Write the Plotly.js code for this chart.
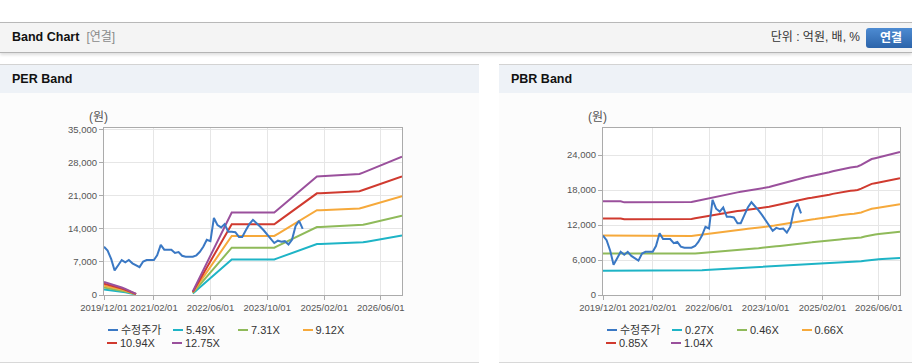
<!DOCTYPE html>
<html><head><meta charset="utf-8">
<script src="https://cdn.plot.ly/plotly-3.0.1.min.js"></script>
<style>
html,body{margin:0;padding:0;background:#fff;width:912px;height:364px;overflow:hidden;
  font-family:"Liberation Sans",Arial,"Noto Sans CJK KR",sans-serif;}
.abs{position:absolute;}
#hdr{left:0;top:22px;width:912px;height:29px;background:#f4f4f4;border-top:1px solid #b8b8b8;border-bottom:1px solid #b4b4b4;box-shadow:0 2px 3px rgba(0,0,0,0.13);}
#ttl{left:12px;top:23px;height:29px;line-height:29px;font-size:12.5px;font-weight:bold;color:#111;white-space:nowrap;}
#ttl span{font-weight:normal;color:#8a8a8a;margin-left:7px;font-size:12px;}
#unit{right:52px;top:23px;height:29px;line-height:29px;font-size:12px;color:#333;white-space:nowrap;}
#btn{left:866px;top:28px;width:50px;height:20px;line-height:20px;border-radius:3px;text-align:center;
  background:linear-gradient(#4d8bd2,#2c64aa);color:#fff;font-weight:bold;font-size:12px;}
.panel{top:64px;height:297px;background:#fcfcfc;border-top:1px solid #d3d3d3;border-bottom:1px solid #d8d8d8;}
.phead{left:0;top:0;right:0;height:28px;line-height:28px;background:#eef2f7;font-size:12.5px;font-weight:bold;color:#111;padding-left:12px;}
.chart{top:93px;height:269px;}
.lg{font-size:11px;color:#333;white-space:nowrap;line-height:14px;}
.lgl{height:2px;width:10px;}
</style></head>
<body>
<div id="hdr" class="abs"></div>
<div id="ttl" class="abs">Band Chart<span>[연결]</span></div>
<div id="unit" class="abs">단위 : 억원, 배, %</div>
<div id="btn" class="abs">연결</div>

<div class="abs panel" style="left:0;width:479px;"><div class="abs phead">PER Band</div></div>
<div class="abs panel" style="left:499px;width:413px;"><div class="abs phead">PBR Band</div></div>
<div id="per" class="abs chart" style="left:0;width:479px;"></div>
<div id="pbr" class="abs chart" style="left:499px;width:413px;"></div>
<div id="legends"></div>

<script>
// ---- data ----
const months = [
 "2019-12",
 "2020-01","2020-02","2020-03","2020-04","2020-05","2020-06","2020-07","2020-08","2020-09","2020-10","2020-11","2020-12",
 "2021-01","2021-02","2021-03","2021-04","2021-05","2021-06","2021-07","2021-08","2021-09","2021-10","2021-11","2021-12",
 "2022-01","2022-02","2022-03","2022-04","2022-05","2022-06","2022-07","2022-08","2022-09","2022-10","2022-11","2022-12",
 "2023-01","2023-02","2023-03","2023-04","2023-05","2023-06","2023-07","2023-08","2023-09","2023-10","2023-11","2023-12",
 "2024-01","2024-02","2024-03","2024-04","2024-05","2024-06","2024-07","2024-08","2024-09","2024-10","2024-11","2024-12",
 "2025-01","2025-02","2025-03","2025-04","2025-05","2025-06","2025-07","2025-08","2025-09","2025-10","2025-11","2025-12",
 "2026-01","2026-02","2026-03","2026-04","2026-05","2026-06","2026-07","2026-08","2026-09","2026-10","2026-11","2026-12"
];
// 수정주가 (adjusted price), 2019-12 .. 2024-08
const price = [10200,9400,7600,5200,6300,7400,6900,7400,6700,6300,5900,7100,7400,7400,7400,8400,10600,9600,9600,9600,
 8900,9100,8300,8100,8100,8100,8400,9100,10200,11700,11400,16300,14800,14300,15000,13400,13400,13300,12300,12300,
 13700,15000,15900,15300,14500,13700,12800,12100,11000,11500,11300,11400,10700,11700,14600,15700,14000];
// EPS per month (null = not shown)
const eps = [216,200,184,165,145,125,102,78,51,20,
 null,null,null,null,null,null,null,null,null,null,null,null,null,null,null,
 60,179,298,417,536,655,774,893,1012,1132,1251,1370,
 1370,1370,1370,1370,1370,1370,1370,1370,1370,1370,1370,1370,
 1420,1470,1519,1569,1619,1669,1718,1768,1818,1868,1917,1967,
 1970,1974,1977,1981,1984,1988,1991,1994,1998,2001,2005,2008,
 2032,2056,2080,2104,2128,2152,2175,2199,2223,2247,2271,2295];
// BPS per month
const bps = [15440,15440,15440,15440,15440,15440,
 15270,15270,15270,15270,15270,15270,15270,15270,15270,15270,15270,15270,15270,15270,15270,15270,15270,15270,15270,
 15340,15470,15590,15720,15840,15970,16090,16220,16340,16470,16590,16720,
 16830,16920,17010,17100,17190,17280,17360,17450,17540,17630,
 17800,17960,18130,18300,18470,18620,18770,18910,19060,19210,19360,19510,
 19620,19720,19830,19940,20090,20240,20400,20550,20700,20850,
 20950,21030,21100,21180,21450,21780,22100,22410,
 22550,22700,22850,23000,23140,23280,23430,23570];
const perMultiples = [5.49, 7.31, 9.12, 10.94, 12.75];
const pbrMultiples = [0.27, 0.46, 0.66, 0.85, 1.04];
const priceName = "수정주가";
const xTickVals = ["2019-12-01","2021-02-01","2022-06-01","2023-10-01","2025-02-01","2026-06-01"];
const xTickText = ["2019/12/01","2021/02/01","2022/06/01","2023/10/01","2025/02/01","2026/06/01"];
const perYTicks = [0,7000,14000,21000,28000,35000];
const pbrYTicks = [0,6000,12000,18000,24000];
const priceColor = "#3a78c4";
const bandColors = ["#1eb4c6","#8fba5a","#f6a93b","#d03a2f","#9a509c"];

const tickFont = {family:"'Liberation Sans',Arial,sans-serif", size:9.5, color:"#555"};

function build(divId, base, mults, yTicks, yMax, width, rMargin, left) {
  const traces = mults.map((m, i) => ({
    type:"scatter", mode:"lines", name:m.toFixed(2)+"X",
    x: months, y: base.map(v => v === null ? null : Math.round(v*m)),
    line:{color:bandColors[i], width:2}, connectgaps:false, hoverinfo:"x+y+name"
  }));
  traces.push({type:"scatter", mode:"lines", name:priceName,
    x: months.slice(0, price.length), y: price,
    line:{color:priceColor, width:2}, hoverinfo:"x+y+name"});
  const layout = {
    width: width, height: 269,
    margin:{l:104, r:rMargin, t:35, b:67, pad:0},
    paper_bgcolor:"rgba(0,0,0,0)", plot_bgcolor:"#ffffff",
    showlegend:false,
    xaxis:{type:"date", range:["2019-12-01","2026-12-01"], tickvals:xTickVals, ticktext:xTickText,
      tickangle:0, showgrid:true, gridcolor:"#e6e6e6", gridwidth:1, showline:true, linecolor:"#ababab", linewidth:1, mirror:true,
      ticks:"outside", ticklen:4, tickcolor:"#ababab", tickfont:tickFont, zeroline:false, fixedrange:true},
    yaxis:{range:[0, yMax], tickvals:yTicks, tickformat:",d",
      showgrid:true, gridcolor:"#e6e6e6", gridwidth:1, showline:true, linecolor:"#ababab", linewidth:1, mirror:true,
      ticks:"outside", ticklen:4, tickcolor:"#ababab", tickfont:tickFont, zeroline:false, fixedrange:true},
    annotations:[{text:"(원)", xref:"paper", yref:"paper", x:0, y:1, xanchor:"right", yanchor:"middle",
      xshift:6, yshift:11, showarrow:false,
      font:{family:"'Liberation Sans','Noto Sans CJK KR',sans-serif", size:12, color:"#555"}}]
  };
  Plotly.newPlot(divId, traces, layout, {displayModeBar:false, staticPlot:true});

  // legend
  const names = [priceName].concat(mults.map(m => m.toFixed(2)+"X"));
  const cols = [priceColor].concat(bandColors);
  const pos = [[17,330],[82,330],[147,330],[211.5,330],[16,343],[81,343]];
  const host = document.getElementById("legends");
  names.forEach((n, i) => {
    const tx = left + 104 + pos[i][0], cy = pos[i][1];
    const l = document.createElement("div");
    l.className = "abs lgl"; l.style.left = (tx-13)+"px"; l.style.top = (cy-1)+"px"; l.style.background = cols[i];
    const t = document.createElement("div");
    t.className = "abs lg"; t.style.left = tx+"px"; t.style.top = (cy-7)+"px"; t.textContent = n;
    host.appendChild(l); host.appendChild(t);
  });
}
build("per", eps, perMultiples, perYTicks, 35350, 479, 77, 0);
build("pbr", bps, pbrMultiples, pbrYTicks, 28630, 413, 12, 499);
</script>
</body></html>
